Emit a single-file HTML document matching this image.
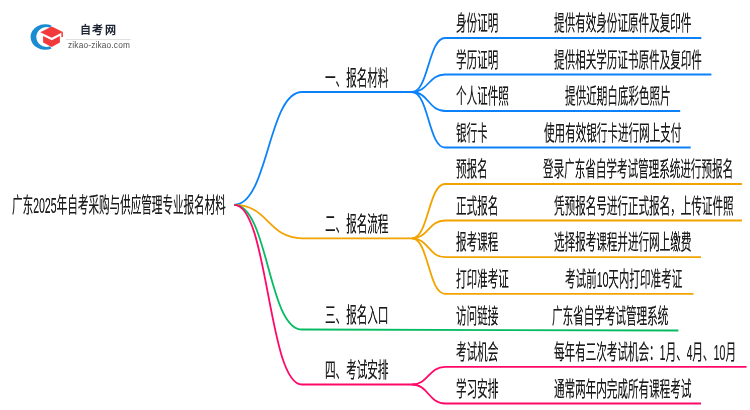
<!DOCTYPE html>
<html lang="zh-CN"><head><meta charset="utf-8"><style>
html,body{margin:0;padding:0;background:#fff;width:750px;height:410px;overflow:hidden;position:relative}
.d{display:inline-block;transform:scaleY(1.09);transform-origin:0 11px}
.t{position:absolute;white-space:nowrap;line-height:1;color:#1a1a1a;font-weight:500;-webkit-text-stroke:0.22px #1a1a1a;font-family:"Liberation Sans",sans-serif;transform-origin:0 0;will-change:transform}
</style></head><body>
<svg width="750" height="410" viewBox="0 0 750 410" style="position:absolute;left:0;top:0"><path d="M234.3,204.8 C268.15,204.8 268.15,92.0 302,92.0" stroke="#0c82fa" stroke-width="1.8" fill="none"/><path d="M302,92.0 L412,92.0" stroke="#0c82fa" stroke-width="1.8" fill="none"/><path d="M412,92.0 C428.5,92.0 428.5,38.0 445,38.0" stroke="#0c82fa" stroke-width="1.8" fill="none"/><path d="M445,38.0 L701.3,38.0" stroke="#0c82fa" stroke-width="1.8" fill="none"/><path d="M412,92.0 C428.5,92.0 428.5,74.5 445,74.5" stroke="#0c82fa" stroke-width="1.8" fill="none"/><path d="M445,74.5 L711.4,74.5" stroke="#0c82fa" stroke-width="1.8" fill="none"/><path d="M412,92.0 C428.5,92.0 428.5,111.0 445,111.0" stroke="#0c82fa" stroke-width="1.8" fill="none"/><path d="M445,111.0 L680.2,111.0" stroke="#0c82fa" stroke-width="1.8" fill="none"/><path d="M412,92.0 C428.5,92.0 428.5,147.5 445,147.5" stroke="#0c82fa" stroke-width="1.8" fill="none"/><path d="M445,147.5 L690.7,147.5" stroke="#0c82fa" stroke-width="1.8" fill="none"/><path d="M234.3,204.8 C268.15,204.8 268.15,238.3 302,238.3" stroke="#f2a300" stroke-width="1.8" fill="none"/><path d="M302,238.3 L412,238.3" stroke="#f2a300" stroke-width="1.8" fill="none"/><path d="M412,238.3 C428.5,238.3 428.5,184.0 445,184.0" stroke="#f2a300" stroke-width="1.8" fill="none"/><path d="M445,184.0 L742,184.0" stroke="#f2a300" stroke-width="1.8" fill="none"/><path d="M412,238.3 C428.5,238.3 428.5,220.5 445,220.5" stroke="#f2a300" stroke-width="1.8" fill="none"/><path d="M445,220.5 L742,220.5" stroke="#f2a300" stroke-width="1.8" fill="none"/><path d="M412,238.3 C428.5,238.3 428.5,257.1 445,257.1" stroke="#f2a300" stroke-width="1.8" fill="none"/><path d="M445,257.1 L701,257.1" stroke="#f2a300" stroke-width="1.8" fill="none"/><path d="M412,238.3 C428.5,238.3 428.5,293.9 445,293.9" stroke="#f2a300" stroke-width="1.8" fill="none"/><path d="M445,293.9 L693.5,293.9" stroke="#f2a300" stroke-width="1.8" fill="none"/><path d="M234.3,204.8 C268.15,204.8 268.15,329.5 302,329.5" stroke="#05bb62" stroke-width="1.8" fill="none"/><path d="M302,329.5 L678.4,330.5" stroke="#05bb62" stroke-width="1.8" fill="none"/><path d="M234.3,204.8 C268.15,204.8 268.15,384.5 302,384.5" stroke="#ff0868" stroke-width="1.8" fill="none"/><path d="M302,384.5 L412,384.5" stroke="#ff0868" stroke-width="1.8" fill="none"/><path d="M412,384.5 C428.5,384.5 428.5,366.9 445,366.9" stroke="#ff0868" stroke-width="1.8" fill="none"/><path d="M445,366.9 L746.6,366.9" stroke="#ff0868" stroke-width="1.8" fill="none"/><path d="M412,384.5 C428.5,384.5 428.5,403.5 445,403.5" stroke="#ff0868" stroke-width="1.8" fill="none"/><path d="M445,403.5 L701,403.5" stroke="#ff0868" stroke-width="1.8" fill="none"/><g>
 <path d="M51.6,25.4 A14.8,12.8 0 1 0 51.6,48.6 L50,46.35 A10.3,9.9 0 1 1 50,27.65 Z" fill="#1a8cd2"/>
 <path d="M51.7,26.4 L62.9,31.9 L51.7,37.8 L40.3,32.2 Z" fill="#f23a3c"/>
 <path d="M61.4,32.3 L62.9,31.9 L62.9,36.9 L61.4,37.2 Z" fill="#f23a3c"/>
 <path d="M43.1,36.0 L51.7,40.3 L59.9,36.0 L59.9,42.4 L51.7,47.0 L43.1,42.4 Z" fill="#f23a3c"/>
 <path d="M65.7,39.5 L130.8,39.5" stroke="#e0e0e0" stroke-width="1"/>
 </g></svg>
<div class="t" style="left:324.5px;top:66.6px;font-size:21px;transform:scaleX(0.503);">一、报名材料</div><div class="t" style="left:455.5px;top:12.0px;font-size:21px;transform:scaleX(0.503);">身份证明</div><div class="t" style="left:554.0px;top:12.0px;font-size:21px;transform:scaleX(0.503);">提供有效身份证原件及复印件</div><div class="t" style="left:455.5px;top:48.5px;font-size:21px;transform:scaleX(0.503);">学历证明</div><div class="t" style="left:554.0px;top:48.5px;font-size:21px;transform:scaleX(0.503);">提供相关学历证书原件及复印件</div><div class="t" style="left:455.5px;top:85.0px;font-size:21px;transform:scaleX(0.503);">个人证件照</div><div class="t" style="left:565.0px;top:85.0px;font-size:21px;transform:scaleX(0.503);">提供近期白底彩色照片</div><div class="t" style="left:455.5px;top:121.5px;font-size:21px;transform:scaleX(0.503);">银行卡</div><div class="t" style="left:544.1px;top:121.5px;font-size:21px;transform:scaleX(0.503);">使用有效银行卡进行网上支付</div><div class="t" style="left:324.5px;top:212.9px;font-size:21px;transform:scaleX(0.503);">二、报名流程</div><div class="t" style="left:455.5px;top:158.0px;font-size:21px;transform:scaleX(0.503);">预报名</div><div class="t" style="left:542.9px;top:158.0px;font-size:21px;transform:scaleX(0.503);">登录广东省自学考试管理系统进行预报名</div><div class="t" style="left:455.5px;top:194.5px;font-size:21px;transform:scaleX(0.503);">正式报名</div><div class="t" style="left:554.1px;top:194.5px;font-size:21px;transform:scaleX(0.503);">凭预报名号进行正式报名，上传证件照</div><div class="t" style="left:455.5px;top:231.10000000000002px;font-size:21px;transform:scaleX(0.503);">报考课程</div><div class="t" style="left:554.1px;top:231.10000000000002px;font-size:21px;transform:scaleX(0.503);">选择报考课程并进行网上缴费</div><div class="t" style="left:455.5px;top:267.9px;font-size:21px;transform:scaleX(0.503);">打印准考证</div><div class="t" style="left:565.3px;top:267.9px;font-size:21px;transform:scaleX(0.503);">考试前<span class="d">10</span>天内打印准考证</div><div class="t" style="left:324.5px;top:304.1px;font-size:21px;transform:scaleX(0.503);">三、报名入口</div><div class="t" style="left:455.5px;top:304.5px;font-size:21px;transform:scaleX(0.503);">访问链接</div><div class="t" style="left:551.9px;top:304.5px;font-size:21px;transform:scaleX(0.503);">广东省自学考试管理系统</div><div class="t" style="left:324.5px;top:359.1px;font-size:21px;transform:scaleX(0.503);">四、考试安排</div><div class="t" style="left:455.5px;top:340.9px;font-size:21px;transform:scaleX(0.503);">考试机会</div><div class="t" style="left:554.0px;top:340.9px;font-size:21px;transform:scaleX(0.503);">每年有三次考试机会：<span class="d">1</span>月、<span class="d">4</span>月、<span class="d">10</span>月</div><div class="t" style="left:455.5px;top:377.5px;font-size:21px;transform:scaleX(0.503);">学习安排</div><div class="t" style="left:554.0px;top:377.5px;font-size:21px;transform:scaleX(0.503);">通常两年内完成所有课程考试</div><div class="t" style="left:11.5px;top:194.3px;font-size:21px;transform:scaleX(0.503);">广东<span class="d">2025</span>年自考采购与供应管理专业报名材料</div>
<div style="position:absolute;left:79.6px;top:25px;font-size:11px;letter-spacing:1.3px;font-weight:bold;color:#1c2333;white-space:nowrap;line-height:1;will-change:transform;font-family:'Liberation Sans',sans-serif">自考网</div><div style="position:absolute;left:67.8px;top:40.5px;font-size:8.3px;letter-spacing:0.17px;color:#505050;white-space:nowrap;line-height:1;will-change:transform;font-family:'Liberation Sans',sans-serif">zikao-zikao.com</div>
</body></html>
